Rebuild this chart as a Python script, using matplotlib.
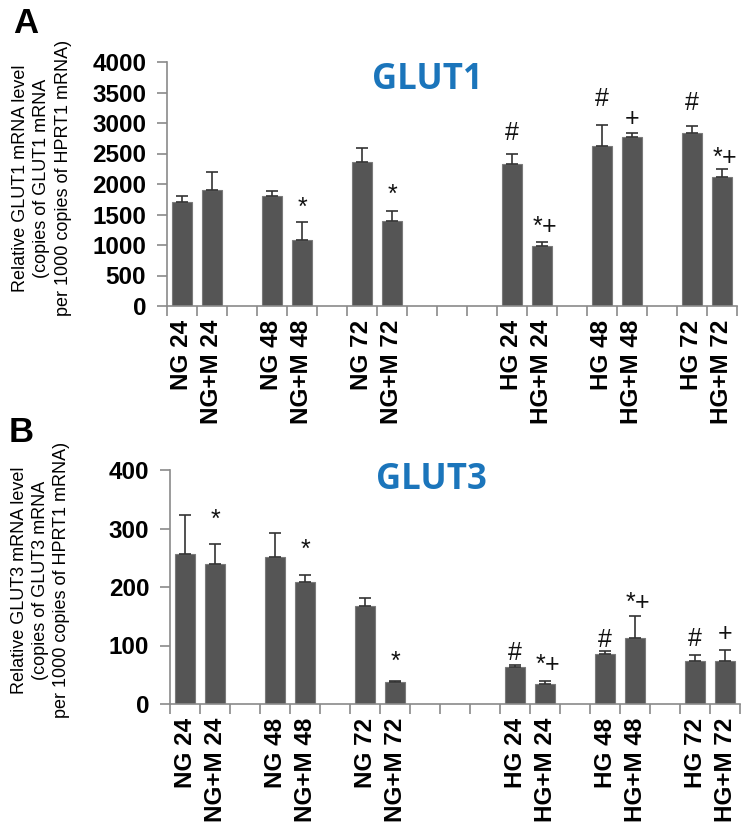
import matplotlib
matplotlib.use('Agg')
import matplotlib.pyplot as plt
import numpy as np

# ---------------- data ----------------
categories = ['NG 24', 'NG+M 24', 'NG 48', 'NG+M 48', 'NG 72', 'NG+M 72',
              'HG 24', 'HG+M 24', 'HG 48', 'HG+M 48', 'HG 72', 'HG+M 72']
slots = [0, 1, 3, 4, 6, 7, 11, 12, 14, 15, 17, 18]

glut1_mean = [1710, 1907, 1798, 1087, 2366, 1388, 2333, 978, 2623, 2765, 2842, 2120]
glut1_err = [100, 284, 93, 285, 230, 170, 153, 77, 350, 71, 115, 120]
glut1_marks = ['', '', '', '*', '', '*', '#', '*+', '#', '+', '#', '*+']

glut3_mean = [256, 239, 252, 209, 168, 37, 64, 34, 85, 112, 73, 73]
glut3_err = [67, 35, 40, 12, 13, 3, 2, 6, 5, 38, 10, 20]
glut3_marks = ['', '*', '', '*', '', '*', '#', '*+', '#', '*+', '#', '+']

glut1_ticks = [0, 500, 1000, 1500, 2000, 2500, 3000, 3500, 4000]
glut3_ticks = [0, 100, 200, 300, 400]

glut1_ylabel = ['Relative GLUT1 mRNA level', '(copies of GLUT1 mRNA', 'per 1000 copies of HPRT1 mRNA)']
glut3_ylabel = ['Relative GLUT3 mRNA level', '(copies of GLUT3 mRNA', 'per 1000 copies of HPRT1 mRNA)']

# ---------------- style ----------------
W, H = 750, 827
BAR = '#555555'
AXC = '#8a8a8a'
BLUE = '#1b75bb'
SANS = ['Liberation Sans', 'DejaVu Sans']

# gaps (px) between error cap and symbol centre
gapsA = [0, 0, 0, 22, 0, 24, 23, 22, 27, 16, 24, 19]
gapsB = [0, 31, 0, 32, 0, 26, 14, 23, 13, 21, 18, 17]
glyph_c = {'#': 0.35, '*': 0.58, '+': 0.35}
SYM_FS = 18

fig = plt.figure(figsize=(W / 100, H / 100), dpi=100)
fig.patch.set_facecolor('white')


def draw_panel(rect, means, errs, marks, gaps, yticks, ylabel_lines, ylabel_xs, ylabel_y,
               title, title_xy, letter, letter_xy):
    ax = fig.add_axes(rect)
    ax.bar(slots, means, width=0.66, color=BAR, edgecolor='#7a7a7a', linewidth=0.8, zorder=2)
    ax.errorbar(slots, means, yerr=[np.zeros(len(errs)), errs], fmt='none',
                ecolor='#333333', elinewidth=1.2, capsize=4, capthick=1.2, zorder=3)
    ax.set_xlim(-0.5, 18.5)
    ax.set_ylim(yticks[0], yticks[-1])
    ax.set_yticks(yticks)
    ax.set_yticklabels([str(t) for t in yticks], fontsize=17.5, fontweight='bold', family=SANS)
    ax.set_xticks(np.arange(-0.5, 19.0, 1.0))
    ax.set_xticklabels([])
    ax.set_xticks(slots, minor=True)
    ax.set_xticklabels(categories, minor=True, rotation=90, fontsize=17.5,
                       fontweight='bold', family=SANS, va='top', ha='center')
    ax.tick_params(axis='x', which='major', direction='out', length=7, color=AXC, width=1.2)
    ax.tick_params(axis='x', which='minor', length=0, pad=10)
    ax.tick_params(axis='y', direction='out', length=7, color=AXC, width=1.2, pad=8)
    for s in ['top', 'right']:
        ax.spines[s].set_visible(False)
    for s in ['left', 'bottom']:
        ax.spines[s].set_color(AXC)
        ax.spines[s].set_linewidth(1.2)
    ax.set_facecolor('white')

    for x, m, e, mk, g in zip(slots, means, errs, marks, gaps):
        if not mk:
            continue
        top = m + e
        if mk == '*+':
            items = [('*', -5, g), ('+', 7, g - 6)]
        else:
            items = [(mk, 0, g)]
        for sym, dxp, gp in items:
            dy = gp * 0.72 - glyph_c[sym] * SYM_FS
            ax.annotate(sym, xy=(x, top), xytext=(dxp * 0.72, dy), textcoords='offset points',
                        ha='center', va='baseline', fontsize=SYM_FS, family=SANS, color='#111111')

    # y label, one rotated text per line
    for line, lx in zip(ylabel_lines, ylabel_xs):
        fig.text(lx / W, 1 - ylabel_y / H, line, rotation=90, ha='center', va='center',
                 fontsize=13, family=SANS)
    fig.text(title_xy[0] / W, 1 - title_xy[1] / H, title, ha='center', va='center',
             fontsize=25, fontweight='bold', color=BLUE, family=['Open Sans', 'DejaVu Sans'])
    fig.text(letter_xy[0] / W, 1 - letter_xy[1] / H, letter, ha='left', va='baseline',
             fontsize=25, fontweight='bold', family=SANS)
    return ax


draw_panel([167 / W, 1 - 306 / H, 570 / W, 244 / H], glut1_mean, glut1_err, glut1_marks, gapsA,
           glut1_ticks, glut1_ylabel, (21, 42, 63), 178, 'GLUT1', (427, 80), 'A', (13, 33))
draw_panel([170 / W, 1 - 704 / H, 570 / W, 234 / H], glut3_mean, glut3_err, glut3_marks, gapsB,
           glut3_ticks, glut3_ylabel, (20, 41, 62), 580, 'GLUT3', (431, 480), 'B', (9, 442))

fig.savefig('out.png', dpi=100, facecolor='white')
